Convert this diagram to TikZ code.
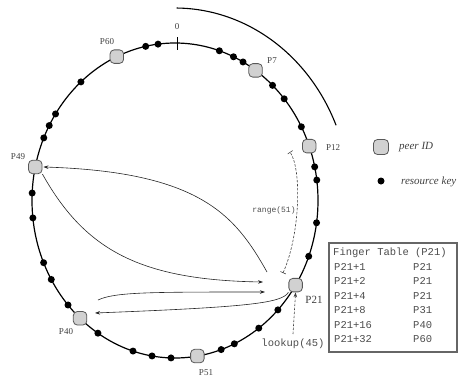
\documentclass[tikz,border=0pt]{standalone}
\usepackage{fontspec}
\setmainfont{Liberation Serif}
\setmonofont{Liberation Mono}
\usetikzlibrary{arrows.meta}
\newcommand{\rp}[1]{({175+143*cos(#1)},{200.5-157.5*sin(#1)})}
\begin{document}
\begin{tikzpicture}[x=1pt,y=-1pt,
  ring/.style={line width=1.2pt, black},
  peer/.style={draw=black!65, fill=black!18, rounded corners=4pt, minimum size=13.5pt, inner sep=0pt, line width=0.8pt},
  plabel/.style={font=\fontsize{9}{10}\selectfont, text=black!75, inner sep=0pt},
  link/.style={line width=0.6pt, black!85, -{Stealth[length=5pt,width=3.5pt]}},
  dlink/.style={line width=0.6pt, black!75, dashed, dash pattern=on 2.5pt off 1.5pt},
  tbl/.style={font=\fontsize{10.5}{12}\selectfont\ttfamily, text=black!70, inner sep=0pt, anchor=west},
  lgd/.style={font=\fontsize{11}{12}\selectfont\itshape, text=black!75, inner sep=0pt, anchor=west}
]
\useasboundingbox (0,0) rectangle (461,381);
% outer arc
\draw[line width=1.1pt] plot[domain=23:89.5, samples=60] ({175+175*cos(\x)},{200.5-192.5*sin(\x)});
% ring
\draw[ring] (175,200.5) ellipse [x radius=143pt, y radius=157.5pt];
\draw[line width=0.9pt] (177,37) -- (177,50);
\node[plabel] (zero) at (177,27) {0};
% resource keys
\foreach \px/\py in {146/48,158/44,219/52,233/58,243/62,272/86,284/99,301/127,314/167,317/180,318/223,308/256,278/310,258/327,234/343,221/349,171/358,152/356,133/351,98/333,68/305,52/279,43/263,32/218,32/193,44/138,50/126,57/115,81/82}{
  \pgfmathsetmacro\t{atan2((200.5-\py)/157.5,(\px-175)/143)}
  \fill \rp{\t} circle (3.5pt);
}
% peers
\node[peer] (P12) at \rp{20.2} {};
\node[peer] (P21) at \rp{-32.5} {};
\node[peer] (P51) at \rp{-81} {};
\node[peer] (P40) at \rp{-131.6} {};
\node[peer] (P49) at \rp{167.7} {};
\node[peer] (P60) at \rp{114} {};
\node[peer] (P7) at \rp{55.7} {};
% peer labels
\node[plabel] (lP12) at (333,148) {P12};
\node[plabel, font=\fontsize{11}{12}\selectfont] (lP21) at (314,300) {P21};
\node[plabel] (lP51) at (206,373) {P51};
\node[plabel] (lP40) at (66,332) {P40};
\node[plabel] (lP49) at (18,157) {P49};
\node[plabel] (lP60) at (107,42) {P60};
\node[plabel] (lP7) at (272,61) {P7};
% connectors
\coordinate (a1) at (267,272);
\draw[link, shorten >=1pt] (a1) .. controls (235,215) and (200,172) .. (P49.east);
\coordinate (b1) at (263,282);
\draw[link] (P49.south east) .. controls (85,250) and (140,280) .. (b1);
\coordinate (c0) at (98,300);
\coordinate (c1) at (265,292);
\draw[link] (c0) .. controls (115,292) and (150,292) .. (c1);
\coordinate (d1) at (95,313);
\draw[link] (P21.south west) .. controls (282,303) and (250,307) .. (d1);
% range
\coordinate (r0) at (283,273);
\coordinate (r1) at (290,152);
\draw[dlink, {Bar[width=6pt]}-{Bar[width=6pt]}] (r0) .. controls (300,235) and (302,170) .. (r1);
\node[font=\fontsize{8}{9}\selectfont\ttfamily, text=black!70, inner sep=0pt] (rng) at (274,210) {range(51)};
% lookup
\coordinate (l0) at (293,334);
\draw[dlink, -{Stealth[length=5pt,width=3.5pt]}] (l0) -- (P21.south);
\node[font=\fontsize{10.5}{12}\selectfont\ttfamily, text=black!70, inner sep=0pt] (lk) at (293,344) {lookup(45)};
% legend
\node[peer, minimum size=15pt] (lgpeer) at (381,147) {};
\node[lgd] (lgpeertxt) at (399,147) {peer ID};
\fill (381,181) circle (3.5pt);
\node[lgd] (lgkey) at (401,182) {resource key};
% finger table
\node[draw=black!60, line width=1.4pt, minimum width=128pt, minimum height=109pt, inner sep=0pt] (ft) at (393,297.5) {};
\node[tbl] (h) at (333,253) {Finger Table (P21)};
\foreach \y/\a/\b in {267/P21+1/P21, 281/P21+2/P21, 296/P21+4/P21, 310/P21+8/P31, 325/P21+16/P40, 339/P21+32/P60}{
  \node[tbl] at (334,\y) {\a};
  \node[tbl] at (413,\y) {\b};
}
\end{tikzpicture}
\end{document}
